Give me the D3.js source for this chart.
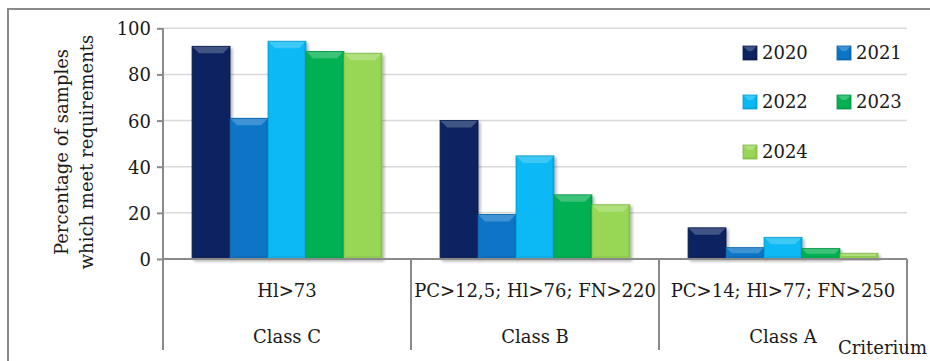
<!DOCTYPE html>
<html>
<head>
<meta charset="utf-8">
<script src="https://cdn.jsdelivr.net/npm/d3@7"></script>
<style>
  html, body { margin: 0; padding: 0; background: #fff; }
  svg { display: block; }
  text { font-family: "DejaVu Serif", "Liberation Serif", serif; fill: #1a1a1a; }
</style>
</head>
<body>
<svg id="chart" width="930" height="361"></svg>
<script>
// ---------- data ----------
const years = ["2020", "2021", "2022", "2023", "2024"];
const criteria = ["Hl>73", "PC>12,5; Hl>76; FN>220", "PC>14; Hl>77; FN>250"];
const classes = ["Class C", "Class B", "Class A"];
const values2020 = [92.2, 60, 13.5];
const values2021 = [61, 19.3, 4.9];
const values2022 = [94.4, 44.7, 9.4];
const values2023 = [90, 27.8, 4.5];
const values2024 = [89.2, 23.5, 2.5];
const yTicks = [0, 20, 40, 60, 80, 100];
const colors = ["#0b2461", "#0a74c6", "#08b9f4", "#06b153", "#98d756"];
const yTitle = ["Percentage of samples", "which meet requirements"];
const xTitle = "Criterium";

const seriesValues = [values2020, values2021, values2022, values2023, values2024];

// ---------- layout ----------
const svg = d3.select("#chart");
const plot = { left: 163, right: 907, top: 28.3, bottom: 259 };

const x0 = d3.scaleBand().domain(d3.range(criteria.length))
  .range([plot.left, plot.right]).paddingInner(0).paddingOuter(0);
const bandW = x0.bandwidth();
const barW = bandW / (years.length + 1.53);
const x1 = d3.scaleBand().domain(years)
  .range([0, barW * years.length]);
const groupOffset = (bandW - barW * years.length) / 2;

const y = d3.scaleLinear().domain([0, 100]).range([plot.bottom, plot.top]);

// defs
const defs = svg.append("defs");
const f = defs.append("filter").attr("id", "shadow")
  .attr("x", "-20%").attr("y", "-20%").attr("width", "150%").attr("height", "150%");
f.append("feGaussianBlur").attr("in", "SourceAlpha").attr("stdDeviation", 1.5).attr("result", "b");
f.append("feOffset").attr("in", "b").attr("dx", 1.5).attr("dy", 1.5).attr("result", "o");
f.append("feComponentTransfer").attr("in", "o").attr("result", "o2")
  .append("feFuncA").attr("type", "linear").attr("slope", 0.3);
const fm = f.append("feMerge");
fm.append("feMergeNode").attr("in", "o2");
fm.append("feMergeNode").attr("in", "SourceGraphic");

// outer frame
svg.append("rect").attr("x", 8).attr("y", 9).attr("width", 940).attr("height", 370)
  .attr("fill", "#fff").attr("stroke", "#8a8a8a").attr("stroke-width", 2);

// gridlines
svg.append("g").selectAll("line").data(yTicks.filter(d => d > 0)).join("line")
  .attr("x1", plot.left).attr("x2", plot.right)
  .attr("y1", d => y(d)).attr("y2", d => y(d))
  .attr("stroke", "#d9d9d9").attr("stroke-width", 1.5);

// bevelled bar drawing
function bevel(g, bx, by, w, h, color, topInset, botInset) {
  const c = d3.color(color);
  const light = d3.interpolateRgb(color, "#ffffff")(0.22);
  const dark = c.darker(0.5).formatHex();
  const et = Math.min(topInset, h / 2, w / 2);
  const eb = Math.min(botInset, h / 2, w / 2);
  const es = 2;
  g.append("rect").attr("x", bx).attr("y", by).attr("width", w).attr("height", h)
    .attr("fill", color);
  // top
  g.append("path").attr("d", `M${bx},${by}L${bx + w},${by}L${bx + w - et},${by + et}L${bx + et},${by + et}Z`)
    .attr("fill", light);
  // bottom
  g.append("path").attr("d", `M${bx},${by + h}L${bx + w},${by + h}L${bx + w - eb},${by + h - eb}L${bx + eb},${by + h - eb}Z`)
    .attr("fill", dark).attr("opacity", 0.35);
  // right
  if (h > 2 * es) {
    g.append("path").attr("d", `M${bx + w},${by}L${bx + w - es},${by + Math.min(es, h / 2)}L${bx + w - es},${by + h - Math.min(es, h / 2)}L${bx + w},${by + h}Z`)
      .attr("fill", dark).attr("opacity", 0.35);
  }
  g.append("rect").attr("x", bx).attr("y", by).attr("width", w).attr("height", h)
    .attr("fill", "none").attr("stroke", dark).attr("stroke-width", 0.8);
}

// bars
const barsG = svg.append("g");
seriesValues.forEach((vals, si) => {
  vals.forEach((v, ci) => {
    const bx = x0(ci) + groupOffset + x1(years[si]);
    const by = y(v);
    const h = y(0) - y(v);
    const g = barsG.append("g").attr("filter", "url(#shadow)");
    bevel(g, bx, by, x1.bandwidth(), h, colors[si], 7, 3);
  });
});

// y axis
const yAxis = d3.axisLeft(y).tickValues(yTicks).tickSize(6).tickPadding(6).tickFormat(d3.format("d"));
const yG = svg.append("g").attr("transform", `translate(${plot.left},0)`).call(yAxis);
yG.select(".domain").remove();
yG.selectAll(".tick line").attr("stroke", "#8a8a8a").attr("stroke-width", 2);
yG.selectAll(".tick text").attr("font-size", 18).attr("fill", "#1a1a1a")
  .style("font-family", "'DejaVu Serif', serif").attr("dy", "0.36em");

// axis lines
svg.append("line").attr("x1", plot.left).attr("x2", plot.left)
  .attr("y1", plot.top).attr("y2", 350).attr("stroke", "#8a8a8a").attr("stroke-width", 2);
svg.append("line").attr("x1", plot.left).attr("x2", plot.right)
  .attr("y1", y(0)).attr("y2", y(0)).attr("stroke", "#8a8a8a").attr("stroke-width", 2);

// category separators
svg.append("g").selectAll("line").data(d3.range(1, criteria.length + 1)).join("line")
  .attr("x1", d => x0(0) + d * bandW).attr("x2", d => x0(0) + d * bandW)
  .attr("y1", y(0)).attr("y2", 350)
  .attr("stroke", "#8a8a8a").attr("stroke-width", 2);

// category labels
svg.append("g").selectAll("text").data(criteria).join("text")
  .attr("x", (d, i) => x0(i) + bandW / 2).attr("y", 297)
  .attr("text-anchor", "middle").attr("font-size", 18).text(d => d);
svg.append("g").selectAll("text").data(classes).join("text")
  .attr("x", (d, i) => x0(i) + bandW / 2).attr("y", 343)
  .attr("text-anchor", "middle").attr("font-size", 18).text(d => d);

// x title
svg.append("text").attr("x", 927).attr("y", 354).attr("text-anchor", "end")
  .attr("font-size", 18).text(xTitle);

// y title
const yt = svg.append("text").attr("transform", "translate(0,152) rotate(-90)")
  .attr("text-anchor", "middle").attr("font-size", 18);
yt.append("tspan").attr("x", 0).attr("y", 68).text(yTitle[0]);
yt.append("tspan").attr("x", 0).attr("y", 93).text(yTitle[1]);

// legend
const legendPos = [[743, 53], [837, 53], [743, 102], [837, 102], [743, 152]];
const lg = svg.append("g");
years.forEach((yr, i) => {
  const [lx, ly] = legendPos[i];
  const g = lg.append("g");
  bevel(g, lx, ly - 7, 14, 14, colors[i], 5, 2);
  lg.append("text").attr("x", lx + 19).attr("y", ly).attr("dy", "0.36em")
    .attr("font-size", 18).text(yr);
});
</script>
</body>
</html>
